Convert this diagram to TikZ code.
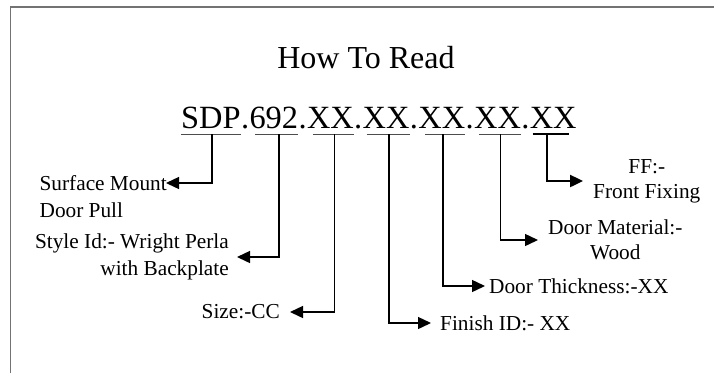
\documentclass[tikz,border=0pt]{standalone}
\usepackage{fontspec}
\setmainfont{Liberation Serif}
\usetikzlibrary{arrows.meta}
\begin{document}
\begin{tikzpicture}[x=1pt,y=-1pt,
  frame/.style={draw=black!55,line width=1.5pt},
  titletext/.style={inner sep=0pt,font=\fontsize{32}{38}\selectfont},
  codeseg/.style={inner sep=0pt,anchor=base west,font=\fontsize{32.4}{38}\selectfont},
  uline/.style={draw=black!70,line width=1pt},
  lab/.style={inner sep=0pt,font=\fontsize{21.3}{27}\selectfont},
  labr/.style={inner sep=0pt,font=\fontsize{21.3}{25}\selectfont},
  conn/.style={draw=black,line width=1.4pt,-{Triangle[length=13pt,width=12pt]}},
  connthick/.style={draw=black,line width=2.4pt,-{Triangle[length=13pt,width=12pt]}}]
\useasboundingbox (0,0) rectangle (714,373);
\draw[frame] (10.5,373) -- (10.5,7) -- (714,7);
% title
\node[titletext,anchor=base] (title) at (366,68) {How To Read};
% code
\node[codeseg] (s1) at (181,128) {SDP};
\node[codeseg] (d1) at (s1.base east) {.};
\node[codeseg] (s2) at (d1.base east) {692};
\node[codeseg] (d2) at (s2.base east) {.};
\node[codeseg] (s3) at (d2.base east) {XX};
\node[codeseg] (d3) at (s3.base east) {.};
\node[codeseg] (s4) at (d3.base east) {XX};
\node[codeseg] (d4) at (s4.base east) {.};
\node[codeseg] (s5) at (d4.base east) {XX};
\node[codeseg] (d5) at (s5.base east) {.};
\node[codeseg] (s6) at (d5.base east) {XX};
\node[codeseg] (d6) at (s6.base east) {.};
\node[codeseg] (s7) at (d6.base east) {XX};
% underlines
\draw[uline] ([yshift=-6pt]s1.base west) -- ([yshift=-6pt]s1.base east);
\draw[uline] ([xshift=6pt,yshift=-6pt]s2.base west) -- ([yshift=-6pt]s2.base east);
\draw[uline] ([xshift=6pt,yshift=-6pt]s3.base west) -- ([yshift=-6pt]s3.base east);
\draw[uline] ([xshift=4pt,yshift=-6pt]s4.base west) -- ([yshift=-6pt]s4.base east);
\draw[uline] ([xshift=7pt,yshift=-6pt]s5.base west) -- ([yshift=-6pt]s5.base east);
\draw[uline] ([xshift=5pt,yshift=-6pt]s6.base west) -- ([yshift=-6pt]s6.base east);
\draw[uline,draw=black,line width=1.8pt] ([xshift=3pt,yshift=-6pt]s7.base west) -- ([xshift=-8pt,yshift=-6pt]s7.base east);
% stem tops
\coordinate (t1) at ([xshift=1pt,yshift=-6pt]s1.base);
\coordinate (t2) at ([xshift=5pt,yshift=-6pt]s2.base);
\coordinate (t3) at ([xshift=4pt,yshift=-6pt]s3.base);
\coordinate (t4) at ([xshift=3pt,yshift=-6pt]s4.base);
\coordinate (t5) at ([xshift=1pt,yshift=-6pt]s5.base);
\coordinate (t6) at ([xshift=3pt,yshift=-6pt]s6.base);
\coordinate (t7) at ([xshift=-6pt,yshift=-6pt]s7.base);
% labels
\node[lab,anchor=east] (sm1) at (167,183) {Surface Mount};
\node[lab,anchor=base west] (sm2) at ([yshift=-27pt]sm1.base west) {Door Pull};
\node[lab,align=right,anchor=east] (st) at (229,257) {Style Id:- Wright Perla\\with Backplate};
\node[lab,anchor=east] (sz) at (280,312) {Size:-CC};
\node[lab,anchor=west] (fi) at (440,323) {Finish ID:- XX};
\node[lab,anchor=west] (dt) at (489,286) {Door Thickness:-XX};
\node[labr,align=center,anchor=west] (dm) at (548,240) {Door Material:-\\Wood};
\node[labr,align=center,anchor=west] (ff) at (593,181) {FF:-\\Front Fixing};
% connectors
\draw[conn,shorten >=-1pt] (t1) |- (sm1.east);
\draw[conn,shorten >=8pt] (t2) |- (st.east);
\draw[conn,shorten >=10pt] (t3) |- (sz.east);
\draw[conn,shorten >=9pt] (t4) |- (fi.west);
\draw[conn,shorten >=4pt] (t5) |- (dt.west);
\draw[conn,shorten >=10pt] (t6) |- (dm.west);
\draw[connthick,shorten >=10pt] (t7) |- (ff.west);
\end{tikzpicture}
\end{document}
